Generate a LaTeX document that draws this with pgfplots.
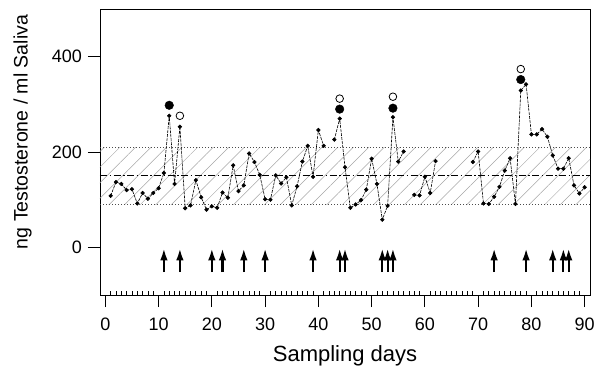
\documentclass[border=0pt]{standalone}
\usepackage{fontspec}
\setmainfont{Liberation Sans}
\usepackage{pgfplots}
\usepackage{pgfplotstable}
\pgfplotsset{compat=1.18}
\usetikzlibrary{arrows.meta,patterns.meta}
\pgfplotstableread{
day val
1 108
2 137
3 133
4 120
5 122
6 92
7 114
8 102
9 114
10 124
11 156
12 276
13 133
14 253
15 82
16 88
17 141
18 105
19 79
20 86
21 83
22 115
23 104
24 172
25 118
26 130
27 197
28 179
29 152
30 101
31 100
32 151
33 134
34 147
35 88
36 128
37 180
38 213
39 148
40 246
41 213
42 nan
43 226
44 270
45 168
46 83
47 90
48 99
49 121
50 186
51 133
52 58
53 87
54 273
55 180
56 201
57 nan
58 110
59 109
60 148
61 114
62 181
63 nan
69 179
70 201
71 92
72 91
73 106
74 127
75 161
76 187
77 91
78 329
79 342
80 237
81 237
82 248
83 232
84 193
85 165
86 165
87 187
88 130
89 113
90 126
}\testo
\begin{document}
\fontsize{18}{21}\selectfont
\begin{tikzpicture}
\useasboundingbox (-100pt,-81pt) rectangle (507pt,295pt);
\begin{axis}[
 at={(0,0)}, anchor=south west,
 scale only axis, width=490pt, height=286pt,
 xmin=-1, xmax=91, ymin=-100, ymax=500,
 xtick={0,10,...,90}, ytick={0,200,400},
 minor x tick num=9,
 tick pos=left, tick align=outside,
 major tick length=12pt, minor tick length=4pt,
 every minor tick/.append style={yshift=4pt},
 /pgf/number format/assume math mode=true,
 tick label style={font=\fontsize{18}{21}\selectfont},
 xticklabel style={yshift=-5pt},
 xlabel style={font=\fontsize{22}{26}\selectfont, yshift=-2pt},
 ylabel style={font=\fontsize{19.5}{22}\selectfont, yshift=8pt, xshift=20pt},
 xlabel={Sampling days}, ylabel={ng Testosterone / ml Saliva},
 unbounded coords=jump,
 axis line style={line width=0.8pt},
 tick style={line width=0.8pt, black},
]
\addplot[draw=none, pattern={Lines[angle=45,distance=11pt,line width=0.5pt]}, pattern color=gray!70] coordinates {(-1,90)(91,90)(91,210)(-1,210)} -- cycle;
\addplot[gray!60!black, dotted, line width=1pt] coordinates {(-1,90)(91,90)};
\addplot[gray!60!black, dotted, line width=1pt] coordinates {(-1,210)(91,210)};
\addplot[black, line width=0.9pt, dash pattern=on 7pt off 2.5pt on 1.5pt off 2.5pt] coordinates {(-1,150)(91,150)};
\addplot[black, line width=0.6pt, dash pattern=on 3pt off 1pt, mark=*, mark size=1.8pt, mark options={solid}] table[x=day,y=val] {\testo};
\addplot[only marks, mark=*, mark size=4.3pt, black] coordinates {(12,298)(44,290)(54,292)(78,352)};
\addplot[only marks, mark=o, mark size=3.8pt, black, line width=0.8pt] coordinates {(14,276)(44,312)(54,316)(78,374)};
\addplot[quiver={u=0,v=50}, -{Latex[length=12pt,width=7.5pt]}, line width=2.2pt, black, mark=none] coordinates {(11,-52)(14,-52)(20,-52)(22,-52)(26,-52)(30,-52)(39,-52)(44,-52)(45,-52)(52,-52)(53,-52)(54,-52)(73,-52)(79,-52)(84,-52)(86,-52)(87,-52)};
\end{axis}
\end{tikzpicture}
\end{document}
